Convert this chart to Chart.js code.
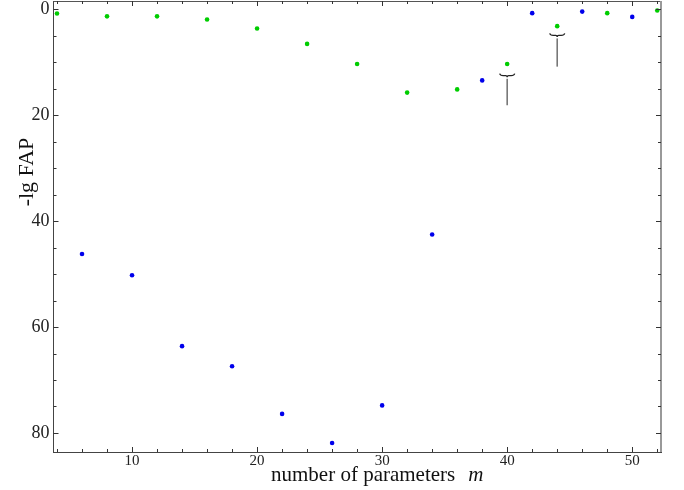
<!DOCTYPE html>
<html>
<head>
<meta charset="utf-8">
<script src="https://cdn.jsdelivr.net/npm/chart.js@4.4.0/dist/chart.umd.min.js"></script>
<style>
    html, body { margin: 0; padding: 0; background: #fff; }
    #wrap { width: 684px; height: 490px; }
</style>
</head>
<body>
<div id="wrap"><canvas id="fapChart" width="684" height="490"></canvas></div>
<script>
// --- data ---
const greenM = [4, 8, 12, 16, 20, 24, 28, 32, 36, 40, 44, 48, 52];
const greenFap = [0.75, 1.3, 1.3, 1.9, 3.6, 6.5, 10.3, 15.7, 15.1, 10.3, 3.15, 0.7, 0.2];
const blueM = [6, 10, 14, 18, 22, 26, 30, 34, 38, 42, 46, 50];
const blueFap = [46.2, 50.2, 63.6, 67.4, 76.4, 81.9, 74.8, 42.5, 13.4, 0.7, 0.4, 1.4];

// lower-limit markers (brace + bar) under two green points
const limitM = [40, 44];
const braceFap = [12.5, 4.9];
const barEndFap = [18.1, 10.8];

const xTickValues = [10, 20, 30, 40, 50];
const yTickValues = [0, 20, 40, 60, 80];

const serif = "'Liberation Serif', 'Times New Roman', serif";

function toPoints(xs, ys) {
    return xs.map((x, i) => ({ x: x, y: ys[i] }));
}

// frame, inside ticks, limit markers and axis titles
const framePlugin = {
    id: 'framePlugin',
    afterDatasetsDraw(chart) {
        const { ctx, chartArea: a, scales: { x, y } } = chart;
        ctx.save();

        // top and right side of the frame
        ctx.lineWidth = 1;
        ctx.strokeStyle = '#555';
        ctx.beginPath();
        ctx.moveTo(a.left, a.top + 0.5);
        ctx.lineTo(a.right, a.top + 0.5);
        ctx.stroke();
        ctx.strokeStyle = '#999';
        ctx.lineWidth = 2;
        ctx.beginPath();
        ctx.moveTo(a.right, a.top);
        ctx.lineTo(a.right, a.bottom);
        ctx.stroke();

        // x ticks, every 2, major every 10
        ctx.strokeStyle = '#333';
        ctx.lineWidth = 1;
        for (let m = 4; m <= 52; m += 2) {
            const px = Math.round(x.getPixelForValue(m)) + 0.5;
            const len = m % 10 === 0 ? 5 : 3;
            ctx.beginPath();
            ctx.moveTo(px, a.bottom);
            ctx.lineTo(px, a.bottom - len);
            ctx.moveTo(px, a.top);
            ctx.lineTo(px, a.top + len);
            ctx.stroke();
        }
        // y ticks, every 5, major every 20
        for (let v = 0; v <= 80; v += 5) {
            const py = Math.round(y.getPixelForValue(v)) + 0.5;
            const len = v % 20 === 0 ? 5 : 3;
            ctx.beginPath();
            ctx.moveTo(a.left, py);
            ctx.lineTo(a.left + len, py);
            ctx.moveTo(a.right, py);
            ctx.lineTo(a.right - len, py);
            ctx.stroke();
        }

        // braces with a bar hanging below
        limitM.forEach((m, i) => {
            const cx = x.getPixelForValue(m);
            const by = y.getPixelForValue(braceFap[i]);
            const ey = y.getPixelForValue(barEndFap[i]);
            ctx.strokeStyle = '#222';
            ctx.lineWidth = 1.3;
            ctx.beginPath();
            ctx.moveTo(cx - 7.5, by - 2);
            ctx.quadraticCurveTo(cx - 7, by, cx - 4, by);
            ctx.lineTo(cx - 1.5, by);
            ctx.quadraticCurveTo(cx, by, cx, by + 1.5);
            ctx.quadraticCurveTo(cx, by, cx + 1.5, by);
            ctx.lineTo(cx + 4, by);
            ctx.quadraticCurveTo(cx + 7, by, cx + 7.5, by - 2);
            ctx.stroke();
            ctx.strokeStyle = '#777';
            ctx.lineWidth = 1.6;
            ctx.beginPath();
            ctx.moveTo(cx, by + 3);
            ctx.lineTo(cx, ey);
            ctx.stroke();
        });

        // axis titles
        ctx.fillStyle = '#111';
        ctx.textBaseline = 'alphabetic';
        ctx.textAlign = 'left';
        ctx.font = '21px ' + serif;
        const xLabel = 'number of parameters';
        const tx = 271, ty = 481;
        ctx.fillText(xLabel, tx, ty);
        const w = ctx.measureText(xLabel).width;
        ctx.font = 'italic 21px ' + serif;
        ctx.fillText('m', tx + w + 13, ty);

        ctx.translate(33, 172);
        ctx.rotate(-Math.PI / 2);
        ctx.textAlign = 'center';
        ctx.font = '22px ' + serif;
        ctx.fillText('-lg FAP', 0, 0);
        ctx.restore();
    }
};

const fapCtx = document.getElementById('fapChart').getContext('2d');
new Chart(fapCtx, {
    type: 'scatter',
    data: {
        datasets: [{
            label: 'green',
            data: toPoints(greenM, greenFap),
            backgroundColor: 'rgb(0, 205, 0)',
            borderColor: 'rgb(0, 205, 0)',
            pointRadius: 2.3,
            borderWidth: 0
        }, {
            label: 'blue',
            data: toPoints(blueM, blueFap),
            backgroundColor: 'rgb(0, 0, 235)',
            borderColor: 'rgb(0, 0, 235)',
            pointRadius: 2.3,
            borderWidth: 0
        }]
    },
    options: {
        responsive: false,
        animation: false,
        layout: { autoPadding: false, padding: { top: 1, right: 23, left: 0, bottom: 0 } },
        plugins: {
            legend: { display: false },
            tooltip: { enabled: false }
        },
        scales: {
            x: {
                type: 'linear',
                min: 3.72,
                max: 52.3,
                afterFit: (scale) => {
                    scale.height = 38;
                    scale.paddingLeft = 0;
                    scale.paddingRight = 0;
                },
                afterBuildTicks: (scale) => { scale.ticks = xTickValues.map(v => ({ value: v })); },
                grid: { display: false, drawTicks: false },
                border: { display: true, color: '#444', width: 1 },
                ticks: {
                    padding: 0,
                    color: '#222',
                    font: { family: serif, size: 15 }
                }
            },
            y: {
                type: 'linear',
                reverse: true,
                min: -1.6,
                max: 83.6,
                afterFit: (scale) => {
                    scale.width = 53.5;
                    scale.paddingTop = 0;
                    scale.paddingBottom = 0;
                },
                afterBuildTicks: (scale) => { scale.ticks = yTickValues.map(v => ({ value: v })); },
                grid: { display: false, drawTicks: false },
                border: { display: true, color: '#444', width: 1 },
                ticks: {
                    padding: 4,
                    color: '#222',
                    font: { family: serif, size: 18 }
                }
            }
        }
    },
    plugins: [framePlugin]
});
</script>
</body>
</html>
